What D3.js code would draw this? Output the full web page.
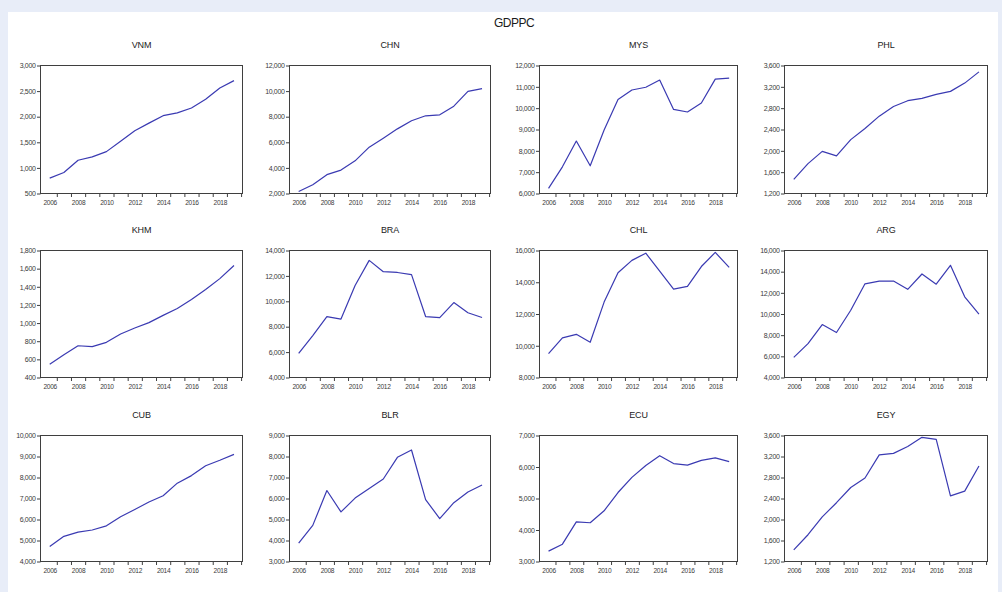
<!DOCTYPE html>
<html>
<head>
<meta charset="utf-8">
<script src="https://cdn.jsdelivr.net/npm/d3@7/dist/d3.min.js"></script>
<style>
  html, body { margin: 0; padding: 0; background: #e8edf8; }
  svg { display: block; }
  text { font-family: "Liberation Sans", Arial, sans-serif; }
</style>
</head>
<body>
<svg id="chart" width="1002" height="592"></svg>
<script>
// GDP per capita, 2006-2019, twelve economies
const years = [2006, 2007, 2008, 2009, 2010, 2011, 2012, 2013, 2014, 2015, 2016, 2017, 2018, 2019];
const yearLabels = [2006, 2008, 2010, 2012, 2014, 2016, 2018];
const yearBoundaries = [2006.5, 2007.5, 2008.5, 2009.5, 2010.5, 2011.5, 2012.5, 2013.5, 2014.5, 2015.5, 2016.5, 2017.5, 2018.5, 2019.5];

const countries = ["VNM", "CHN", "MYS", "PHL", "KHM", "BRA", "CHL", "ARG", "CUB", "BLR", "ECU", "EGY"];

const vnm = [800, 910, 1150, 1215, 1318, 1520, 1725, 1875, 2020, 2075, 2170, 2340, 2560, 2705];
const chn = [2150, 2690, 3470, 3830, 4550, 5620, 6320, 7050, 7680, 8070, 8150, 8820, 9980, 10200];
const mys = [6240, 7250, 8460, 7300, 8980, 10410, 10850, 10980, 11320, 9940, 9820, 10240, 11360, 11410];
const phl = [1465, 1760, 1990, 1905, 2210, 2420, 2650, 2830, 2940, 2985, 3060, 3115, 3270, 3480];
const khm = [545, 650, 750, 740, 788, 880, 945, 1005, 1085, 1160, 1260, 1370, 1490, 1635];
const bra = [5900, 7300, 8800, 8600, 11250, 13220, 12330, 12270, 12100, 8800, 8710, 9900, 9100, 8720];
const chl = [9500, 10500, 10720, 10220, 12750, 14600, 15380, 15830, 14700, 13570, 13740, 14990, 15880, 14940];
const arg = [5900, 7200, 9000, 8250, 10350, 12850, 13100, 13120, 12330, 13780, 12820, 14600, 11620, 9980];
const cub = [4710, 5200, 5400, 5500, 5700, 6130, 6480, 6830, 7130, 7730, 8090, 8560, 8820, 9100];
const blr = [3880, 4720, 6380, 5360, 6020, 6480, 6930, 7960, 8310, 5950, 5040, 5800, 6310, 6640];
const ecu = [3330, 3550, 4260, 4230, 4610, 5190, 5670, 6050, 6360, 6110, 6060, 6210, 6290, 6170];
const egy = [1420, 1710, 2050, 2320, 2610, 2790, 3230, 3260, 3390, 3565, 3525, 2450, 2540, 3020];

const series = [vnm, chn, mys, phl, khm, bra, chl, arg, cub, blr, ecu, egy];

// value-axis tick labels for each panel
const ticksVNM = [500, 1000, 1500, 2000, 2500, 3000];
const ticksCHN = [2000, 4000, 6000, 8000, 10000, 12000];
const ticksMYS = [6000, 7000, 8000, 9000, 10000, 11000, 12000];
const ticksPHL = [1200, 1600, 2000, 2400, 2800, 3200, 3600];
const ticksKHM = [400, 600, 800, 1000, 1200, 1400, 1600, 1800];
const ticksBRA = [4000, 6000, 8000, 10000, 12000, 14000];
const ticksCHL = [8000, 10000, 12000, 14000, 16000];
const ticksARG = [4000, 6000, 8000, 10000, 12000, 14000, 16000];
const ticksCUB = [4000, 5000, 6000, 7000, 8000, 9000, 10000];
const ticksBLR = [3000, 4000, 5000, 6000, 7000, 8000, 9000];
const ticksECU = [3000, 4000, 5000, 6000, 7000];
const ticksEGY = [1200, 1600, 2000, 2400, 2800, 3200, 3600];

const yTicks = [ticksVNM, ticksCHN, ticksMYS, ticksPHL, ticksKHM, ticksBRA,
                ticksCHL, ticksARG, ticksCUB, ticksBLR, ticksECU, ticksEGY];

// grid geometry
const cols = [{l: 40.5, r: 242.5}, {l: 289.5, r: 490.5}, {l: 539.5, r: 737.5}, {l: 784.5, r: 987.5}];
const rows = [{t: 65.5, b: 193.5}, {t: 250.5, b: 377.5}, {t: 435.5, b: 561.5}];

const svg = d3.select("#chart");

// white sheet
svg.append("rect").attr("x", 8).attr("y", 12).attr("width", 990).attr("height", 580).attr("fill", "#ffffff");

svg.append("text")
  .attr("x", 514).attr("y", 27)
  .attr("text-anchor", "middle")
  .attr("font-size", 12)
  .attr("letter-spacing", -0.5)
  .attr("fill", "#1a1a1a")
  .text("GDPPC");

const fmt = d3.format(",");
const lineColor = "#3a3ab2";
const axisColor = "#3f3f3f";
const labelColor = "#3a3a3a";

countries.forEach((name, i) => {
  const c = cols[i % 4];
  const r = rows[Math.floor(i / 4)];
  const ticks = yTicks[i];

  const x = d3.scaleLinear().domain([2005.35, 2019.6]).range([c.l, c.r]);
  const y = d3.scaleLinear().domain([ticks[0], ticks[ticks.length - 1]]).range([r.b, r.t]);

  const g = svg.append("g");

  g.append("text")
    .attr("x", (c.l + c.r) / 2).attr("y", r.t - 17.5)
    .attr("text-anchor", "middle")
    .attr("font-size", 9)
    .attr("letter-spacing", -0.2)
    .attr("fill", "#222")
    .text(name);

  // value axis
  const ya = d3.axisLeft(y).tickValues(ticks).tickSize(3.5).tickPadding(1.5).tickFormat(fmt);
  const yg = g.append("g").attr("transform", `translate(${c.l},0)`).call(ya);
  yg.select(".domain").remove();
  yg.selectAll(".tick line").attr("stroke", axisColor);
  yg.selectAll(".tick text")
    .attr("font-size", 7).attr("letter-spacing", -0.35)
    .attr("font-family", "'Liberation Sans', Arial, sans-serif")
    .attr("fill", labelColor);

  // year axis: ticks on year boundaries, labels on even years
  const xa = d3.axisBottom(x).tickValues(yearBoundaries).tickSize(3.5).tickFormat("");
  const xg = g.append("g").attr("transform", `translate(0,${r.b})`).call(xa);
  xg.select(".domain").remove();
  xg.selectAll(".tick line").attr("stroke", axisColor);

  const xl = d3.axisBottom(x).tickValues(yearLabels).tickSize(0).tickPadding(6.5).tickFormat(d3.format("d"));
  const xlg = g.append("g").attr("transform", `translate(0,${r.b})`).call(xl);
  xlg.select(".domain").remove();
  xlg.selectAll(".tick text")
    .attr("font-size", 6.6).attr("letter-spacing", -0.3)
    .attr("font-family", "'Liberation Sans', Arial, sans-serif")
    .attr("fill", labelColor);

  // frame
  g.append("rect")
    .attr("x", c.l).attr("y", r.t)
    .attr("width", c.r - c.l).attr("height", r.b - r.t)
    .attr("fill", "none").attr("stroke", axisColor).attr("stroke-width", 1);

  const line = d3.line().x((d, k) => x(years[k])).y(d => y(d));
  g.append("path")
    .datum(series[i])
    .attr("d", line)
    .attr("fill", "none")
    .attr("stroke", lineColor)
    .attr("stroke-width", 1.2)
    .attr("stroke-linejoin", "round");
});
</script>
</body>
</html>
